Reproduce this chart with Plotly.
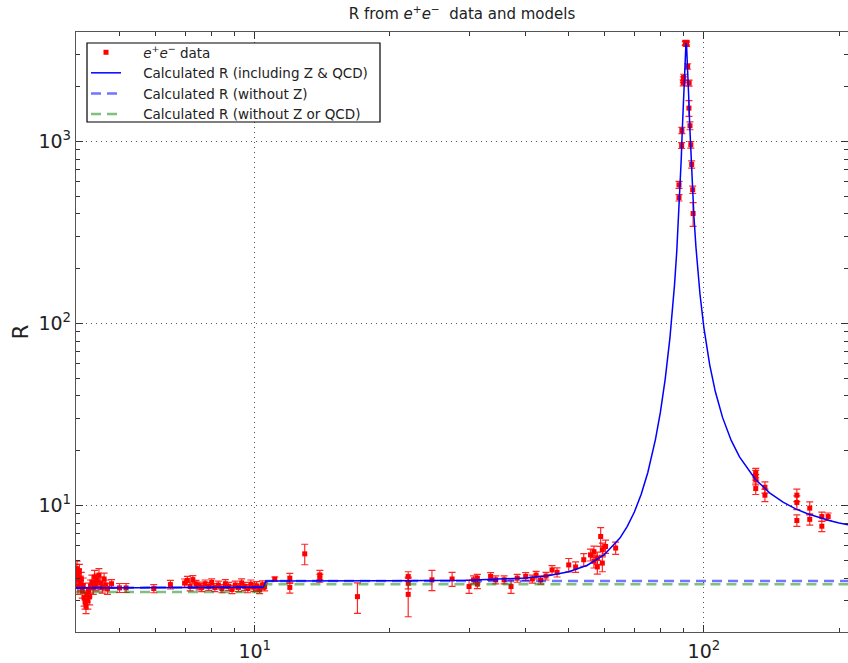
import plotly.graph_objects as go

# ---------------- data ----------------
data_E = [4.00, 4.01, 4.02, 4.04, 4.05, 4.07, 4.09, 4.11, 4.13, 4.15, 4.17, 4.19, 4.21, 4.23,
          4.25, 4.27, 4.29, 4.31, 4.34, 4.37, 4.40, 4.43, 4.46, 4.50, 4.54, 4.58, 4.62, 4.66, 4.70,
          4.80, 5.00, 5.17, 5.96, 6.49, 6.98, 7.08, 7.18, 7.28, 7.40, 7.52,
          7.62, 7.75, 7.90, 8.02, 8.15, 8.30, 8.45, 8.60, 8.75, 8.90, 9.05, 9.20, 9.35, 9.50,
          9.65, 9.80, 9.95, 10.10, 10.25, 10.40, 10.52,
          11.08, 11.97, 11.97, 12.92, 13.96, 13.96, 16.93, 21.96, 21.96, 21.96,
          24.8, 27.5, 30.0, 30.7, 31.3, 31.3, 33.5, 34.4, 35.9, 37.2, 38.4, 40.1, 41.5, 42.3,
          43.3, 44.5, 45.9, 47.1, 50.0, 51.8, 54.0, 55.9, 56.9, 56.9, 57.9, 57.9, 58.9, 59.4,
          59.4, 60.4, 63.6,
          88.0, 88.0, 89.2, 89.3, 89.9, 90.0, 90.1, 90.9, 91.1, 91.2, 91.3, 91.5, 92.0, 92.6,
          92.7, 93.1, 93.5, 93.9, 94.4, 94.6,
          130.4, 130.4, 130.4, 130.4, 136.7, 136.7, 161.0, 161.0, 161.0, 172.0, 172.0,
          183.0, 183.0, 189.0]
data_R = [4.30, 3.90, 4.50, 3.60, 4.10, 4.35, 3.75, 3.95, 3.40, 3.65, 3.10, 2.95, 2.80, 3.25,
          3.00, 3.45, 3.15, 3.60, 3.80, 3.55, 4.05, 3.70, 3.90, 4.15, 3.75, 3.55, 3.95, 3.65, 3.50,
          3.72, 3.53, 3.53, 3.50, 3.68, 3.75, 3.88, 3.60, 3.92, 3.70, 3.62,
          3.55, 3.72, 3.60, 3.78, 3.55, 3.66, 3.50, 3.72, 3.60, 3.46, 3.66, 3.55, 3.76, 3.60,
          3.50, 3.70, 3.56, 3.62, 3.46, 3.66, 3.58,
          3.95, 3.99, 3.55, 5.43, 4.16, 3.99, 3.16, 4.08, 3.74, 3.25,
          3.91, 3.95, 3.59, 3.91, 3.99, 3.70, 4.08, 3.91, 3.91, 3.59, 3.99, 4.08, 3.95, 4.15,
          3.90, 4.10, 4.43, 4.30, 4.72, 4.60, 5.04, 5.36, 4.94, 5.58, 5.15, 4.60, 6.76, 5.72,
          4.83, 5.96, 5.84,
          578, 491, 950, 1149, 2100, 2183, 2250, 3450, 3480, 3500, 3470, 3420, 2583, 1525,
          2094, 1220, 960, 748, 543, 402,
          15.1, 14.7, 13.9, 12.4, 12.6, 11.4, 11.4, 10.4, 8.28, 9.68, 8.4,
          8.7, 7.7, 8.7]
data_err = [0.45, 0.35, 0.45, 0.35, 0.40, 0.40, 0.35, 0.35, 0.30, 0.35, 0.30, 0.25, 0.25, 0.30,
            0.30, 0.30, 0.30, 0.30, 0.35, 0.30, 0.35, 0.30, 0.30, 0.35, 0.30, 0.25, 0.30, 0.25, 0.25,
            0.20, 0.20, 0.20, 0.18, 0.20, 0.20, 0.20, 0.20, 0.20, 0.18, 0.18,
            0.18, 0.18, 0.18, 0.18, 0.18, 0.18, 0.18, 0.20, 0.18, 0.18, 0.18, 0.18, 0.20, 0.18,
            0.18, 0.20, 0.18, 0.20, 0.18, 0.20, 0.18,
            0.10, 0.25, 0.25, 0.70, 0.25, 0.20, 0.60, 0.25, 0.25, 0.80,
            0.50, 0.35, 0.30, 0.20, 0.20, 0.20, 0.20, 0.20, 0.20, 0.30, 0.20, 0.20, 0.20, 0.20,
            0.20, 0.20, 0.25, 0.25, 0.40, 0.30, 0.40, 0.40, 0.40, 0.40, 0.40, 0.40, 0.80, 0.50,
            0.50, 0.50, 0.45,
            25, 20, 35, 45, 80, 80, 90, 90, 90, 90, 90, 90, 90, 150,
            80, 60, 40, 35, 25, 60,
            0.9, 0.9, 0.9, 0.9, 0.9, 0.9, 0.9, 0.9, 0.6, 0.8, 0.6,
            0.5, 0.5, 0.4]

curve_E = [4.0, 6.0, 8.0, 10.45, 10.6, 12, 20, 30, 40, 45, 50, 55, 60, 65, 67.5, 70, 72.5,
           75, 78, 80, 82, 84, 85, 86, 87, 88, 88.5, 89, 89.5, 90, 90.5, 91, 91.2, 91.5,
           92, 92.5, 93, 93.5, 94, 95, 96, 97, 98, 100, 103, 106, 110, 115, 120, 130,
           140, 150, 160, 170, 180, 190, 200, 210]
curve_R = [3.53, 3.54, 3.55, 3.56, 3.85, 3.85, 3.86, 3.89, 4.00, 4.12, 4.33, 4.70, 5.37, 6.63,
           7.68, 9.21, 11.53, 15.2, 23.1, 32.6, 49.6, 83.3, 113.8, 163, 250, 418, 566, 794,
           1160, 1747, 2596, 3377, 3480, 3326, 2536, 1746, 1203, 858, 636, 387.5, 261.4,
           189.5, 144.8, 94.4, 59.3, 42.3, 30.5, 22.8, 18.5, 14.0, 11.74, 10.43, 9.59,
           9.01, 8.58, 8.27, 8.02, 7.82]

noZ_E = [4.0, 10.45, 10.6, 210]
noZ_R = [3.53, 3.56, 3.85, 3.85]

noZQCD_E = [4.0, 10.45, 10.6, 210]
noZQCD_R = [3.35, 3.35, 3.70, 3.70]

x_ticks = [10, 100]
x_ticktext = ["10<sup>1</sup>", "10<sup>2</sup>"]
y_ticks = [10, 100, 1000]
y_ticktext = ["10<sup>1</sup>", "10<sup>2</sup>", "10<sup>3</sup>"]
x_minor = [4, 5, 6, 7, 8, 9, 20, 30, 40, 50, 60, 70, 80, 90, 200]
y_minor = [3, 4, 5, 6, 7, 8, 9, 20, 30, 40, 50, 60, 70, 80, 90,
           200, 300, 400, 500, 600, 700, 800, 900, 2000, 3000]

FONT = "DejaVu Sans"
PAD = "&nbsp;&nbsp;&nbsp;&nbsp;"

fig = go.Figure()

fig.add_trace(go.Scatter(
    x=data_E, y=data_R, mode="markers",
    name=PAD + "<i>e</i><sup>+</sup><i>e</i><sup>−</sup> data",
    marker=dict(symbol="square", size=5, color="red", line=dict(width=0)),
    error_y=dict(type="data", array=data_err, visible=True, color="rgba(255,0,0,0.85)",
                 thickness=1.2, width=3.5),
))
fig.add_trace(go.Scatter(
    x=curve_E, y=curve_R, mode="lines", name=PAD + "Calculated R (including Z & QCD)",
    line=dict(color="#0000ff", width=1.5),
))
fig.add_trace(go.Scatter(
    x=noZ_E, y=noZ_R, mode="lines", name=PAD + "Calculated R (without Z)",
    line=dict(color="rgba(0,0,255,0.55)", width=2.5, dash="10px,6px"),
))
fig.add_trace(go.Scatter(
    x=noZQCD_E, y=noZQCD_R, mode="lines", name=PAD + "Calculated R (without Z or QCD)",
    line=dict(color="rgba(0,128,0,0.5)", width=2.5, dash="10px,6px"),
))

axis_common = dict(
    type="log", showline=True, linecolor="#555", linewidth=1.3, mirror="ticks",
    ticks="inside", ticklen=7, tickwidth=1, tickcolor="#333",
    showgrid=True, gridcolor="#555", gridwidth=1, griddash="1px,4px",
    zeroline=False, tickfont=dict(family=FONT, size=19, color="#222"),
)

fig.update_xaxes(
    range=[0.60206, 2.3207], tickmode="array", tickvals=x_ticks, ticktext=x_ticktext,
    minor=dict(tickmode="array", tickvals=x_minor, ticks="inside", ticklen=4,
               tickcolor="#333", showgrid=False),
    ticklabelstandoff=2,
    **axis_common,
)
fig.update_yaxes(
    range=[0.3054, 3.6014], tickmode="array", tickvals=y_ticks, ticktext=y_ticktext,
    minor=dict(tickmode="array", tickvals=y_minor, ticks="inside", ticklen=4,
               tickcolor="#333", showgrid=False),
    title=dict(text="R", font=dict(family=FONT, size=21, color="#222"), standoff=4),
    **axis_common,
)

# legend frame (px -> paper): x 87..380, y 43..122 with plot area 76..848 x 32..632
fig.add_shape(type="rect", xref="paper", yref="paper",
              x0=(87 - 76) / 772, x1=(380 - 76) / 772,
              y0=(632 - 122) / 600, y1=(632 - 43) / 600,
              line=dict(color="black", width=1.2), fillcolor="white", layer="above")

fig.update_layout(
    width=848, height=663,
    margin=dict(l=76, r=0, t=32, b=31, autoexpand=False),
    paper_bgcolor="white", plot_bgcolor="white",
    font=dict(family=FONT, color="#222"),
    title=dict(text="R from <i>e</i><sup>+</sup><i>e</i><sup>−</sup>  data and models",
               x=0.5, xref="paper", xanchor="center", y=1 - 14 / 663, yref="container",
               yanchor="middle", font=dict(family=FONT, size=15, color="#222")),
    legend=dict(x=(86 - 76) / 772, y=(632 - 37) / 600, xanchor="left", yanchor="top",
                borderwidth=0, bgcolor="rgba(0,0,0,0)",
                font=dict(family=FONT, size=13.5, color="#222"), tracegroupgap=0),
    showlegend=True,
)

fig.write_html("out.html", config={"displayModeBar": False},
               post_script="document.body.style.margin='0px';")
